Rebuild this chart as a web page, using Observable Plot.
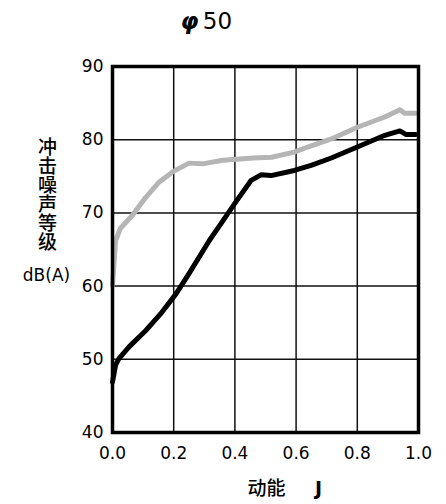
<!DOCTYPE html>
<html>
<head>
<meta charset="utf-8">
<script src="https://cdn.jsdelivr.net/npm/d3@7"></script>
<script src="https://cdn.jsdelivr.net/npm/@observablehq/plot@0.6"></script>
<style>
  html, body { margin: 0; padding: 0; background: #fff; }
  #chart svg { display: block; }
</style>
</head>
<body>
<div id="chart"></div>
<script>
// Data
const xTicks = [0, 0.2, 0.4, 0.6, 0.8, 1.0];
const yTicks = [40, 50, 60, 70, 80, 90];

const energyGray = [0, 0.01, 0.026, 0.064, 0.108, 0.152, 0.196, 0.25, 0.294, 0.36, 0.46, 0.52, 0.594, 0.638, 0.715, 0.80, 0.89, 0.939, 0.955, 0.99];
const levelGray  = [60.1, 66.2, 67.9, 69.6, 72.1, 74.2, 75.6, 76.8, 76.7, 77.2, 77.5, 77.6, 78.3, 79.0, 80.1, 81.7, 83.1, 84.1, 83.6, 83.6];

const energyBlack = [0, 0.01, 0.021, 0.054, 0.108, 0.157, 0.207, 0.25, 0.316, 0.354, 0.398, 0.452, 0.485, 0.518, 0.594, 0.649, 0.715, 0.80, 0.89, 0.939, 0.96, 0.99];
const levelBlack  = [46.9, 49.2, 50.1, 51.7, 53.9, 56.2, 58.9, 61.7, 66.2, 68.5, 71.2, 74.4, 75.2, 75.1, 75.8, 76.5, 77.5, 79.0, 80.6, 81.2, 80.7, 80.7];

const titleSymbol = "φ";
const titleNumber = "50";
const yLabel = "冲击噪声等级";
const yUnit = "dB(A)";
const xLabel = "动能";
const xUnit = "J";

const gray = energyGray.map((e, i) => ({energy: e, level: levelGray[i]}));
const black = energyBlack.map((e, i) => ({energy: e, level: levelBlack[i]}));

const font = "DejaVu Sans, 'Noto Sans CJK SC', sans-serif";
const cjk = "'Noto Sans CJK SC', sans-serif";

const chart = Plot.plot({
  width: 446,
  height: 504,
  marginLeft: 112,
  marginRight: 28,
  marginTop: 66,
  marginBottom: 72,
  style: {fontFamily: font, background: "#fff", color: "#000"},
  x: {domain: [0, 1]},
  y: {domain: [40, 90]},
  marks: [
    Plot.gridX(xTicks.slice(1, -1), {stroke: "#111", strokeOpacity: 1, strokeWidth: 1.5}),
    Plot.gridY(yTicks.slice(1, -1), {stroke: "#111", strokeOpacity: 1, strokeWidth: 1.5}),
    Plot.line(gray, {x: "energy", y: "level", stroke: "#b5b5b5", strokeWidth: 5, strokeLinejoin: "round"}),
    Plot.line(black, {x: "energy", y: "level", stroke: "#000", strokeWidth: 5, strokeLinejoin: "round"}),
    Plot.frame({stroke: "#000", strokeWidth: 3.5}),
    Plot.axisX(xTicks, {tickFormat: d3.format(".1f"), tickSize: 0, tickPadding: 14, fontSize: 17, label: null, letterSpacing: 1.5}),
    Plot.axisY(yTicks, {tickFormat: d3.format("d"), tickSize: 0, tickPadding: 9, fontSize: 17, label: null, letterSpacing: 1.5}),
    Plot.text([titleSymbol], {frameAnchor: "top-left", dx: 77, dy: -45, textAnchor: "middle", lineAnchor: "middle", fontSize: 23, fontStyle: "italic", fontWeight: "bold"}),
    Plot.text([titleNumber], {frameAnchor: "top-left", dx: 105, dy: -45, textAnchor: "middle", lineAnchor: "middle", fontSize: 23, letterSpacing: 2}),
    Plot.text([yLabel], {frameAnchor: "top-left", dx: -65, dy: 122, textAnchor: "middle", lineAnchor: "middle", fontSize: 19, fontFamily: cjk, fontWeight: 500, letterSpacing: 2}),
    Plot.text([yUnit], {frameAnchor: "top-left", dx: -66, dy: 209, textAnchor: "middle", lineAnchor: "middle", fontSize: 17, letterSpacing: 0.5}),
    Plot.text([xLabel], {frameAnchor: "top-left", dx: 154, dy: 422, textAnchor: "middle", lineAnchor: "middle", fontSize: 19, fontFamily: cjk, fontWeight: 500}),
    Plot.text([xUnit], {frameAnchor: "top-left", dx: 206, dy: 422, textAnchor: "middle", lineAnchor: "middle", fontSize: 19, fontWeight: "bold"})
  ]
});

// Set the y label in vertical (stacked) writing mode
d3.select(chart).selectAll("text")
  .filter(function() { return this.textContent === yLabel; })
  .attr("dy", null)
  .style("writing-mode", "vertical-rl")
  .style("text-orientation", "upright");

document.getElementById("chart").appendChild(chart);
</script>
</body>
</html>
